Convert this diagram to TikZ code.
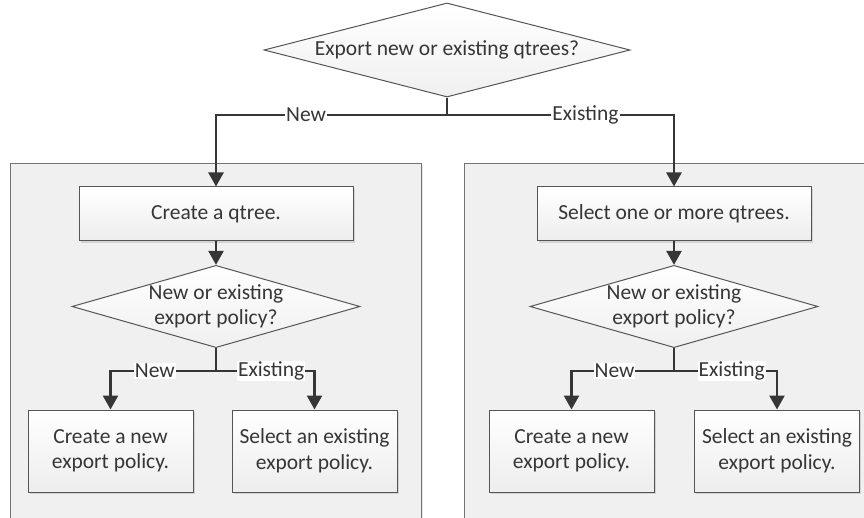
\documentclass[tikz,border=0pt]{standalone}
\usepackage{fontspec}
\setmainfont{Carlito}
\usetikzlibrary{shapes.geometric,arrows.meta,shadows}
\definecolor{ink}{HTML}{363636}
\definecolor{edge}{HTML}{555555}
\definecolor{panel}{HTML}{F0F0F0}

\begin{document}
\begin{tikzpicture}[x=1pt,y=-1pt,font=\fontsize{21.5}{25.5}\selectfont,text=ink,
  box/.style={draw=edge,line width=1pt,top color=white,bottom color=black!7,
              align=center,inner sep=2pt,
              drop shadow={shadow xshift=1.6pt,shadow yshift=-1.6pt,opacity=0.25}},
  dec/.style={diamond,draw=edge,line width=1pt,top color=white,bottom color=black!6,
              align=center,inner sep=0pt,aspect=3.5},
  pnl/.style={draw=black!55,line width=0.8pt,fill=panel,anchor=north west,
              drop shadow={shadow xshift=1.5pt,shadow yshift=-1.5pt,opacity=0.2}},
  lbl/.style={fill=white,inner sep=1pt,text=ink},
  f/.style={-{Triangle[length=14pt,width=15pt]},draw=ink,line width=2.5pt}]

\useasboundingbox (0,0) rectangle (864,518);
\clip (0,0) rectangle (864,518);

% panels
\node[pnl,minimum width=411pt,minimum height=380pt](p1) at (10,163){};
\node[pnl,minimum width=420pt,minimum height=380pt](p2) at (464,163){};

% top decision
\node[dec,minimum width=366pt,minimum height=86pt](q0) at (447,50){Export new or existing qtrees?};
\coordinate (j0) at (447,115);

% new qtree branch
\node[box,minimum width=274pt,minimum height=54pt](c1) at (216,214){Create a qtree.};
\node[dec,minimum width=272pt,minimum height=79pt](d1) at (216,306.5){New or existing\\export policy?};
\coordinate (j1) at (216,371);
\node[box,minimum width=165pt,minimum height=82pt](n1) at (110.5,451){Create a new\\export policy.};
\node[box,minimum width=165pt,minimum height=82pt](e1) at (314.5,451){Select an existing\\export policy.};

% existing qtree branch
\node[box,minimum width=274pt,minimum height=54pt](c2) at (674,214){Select one or more qtrees.};
\node[dec,minimum width=274pt,minimum height=79pt](d2) at (674,306.5){New or existing\\export policy?};
\coordinate (j2) at (674,371);
\node[box,minimum width=165pt,minimum height=82pt](n2) at (571.5,451){Create a new\\export policy.};
\node[box,minimum width=165pt,minimum height=82pt](e2) at (777,451){Select an existing\\export policy.};

\draw[f,-](q0.south)--(j0);
\draw[f](j0) -| node[lbl,pos=0.305]{New} (c1.north);
\draw[f](j0) -| node[lbl,pos=0.305]{Existing} (c2.north);

\draw[f](c1)--(d1); \draw[f,-](d1.south)--(j1);
\draw[f](j1) -| node[lbl,pos=0.29]{New} (n1.north);
\draw[f](j1) -| node[lbl,pos=0.28]{Existing} (e1.north);

\draw[f](c2)--(d2); \draw[f,-](d2.south)--(j2);
\draw[f](j2) -| node[lbl,pos=0.29]{New} (n2.north);
\draw[f](j2) -| node[lbl,pos=0.28]{Existing} (e2.north);
\end{tikzpicture}
\end{document}
